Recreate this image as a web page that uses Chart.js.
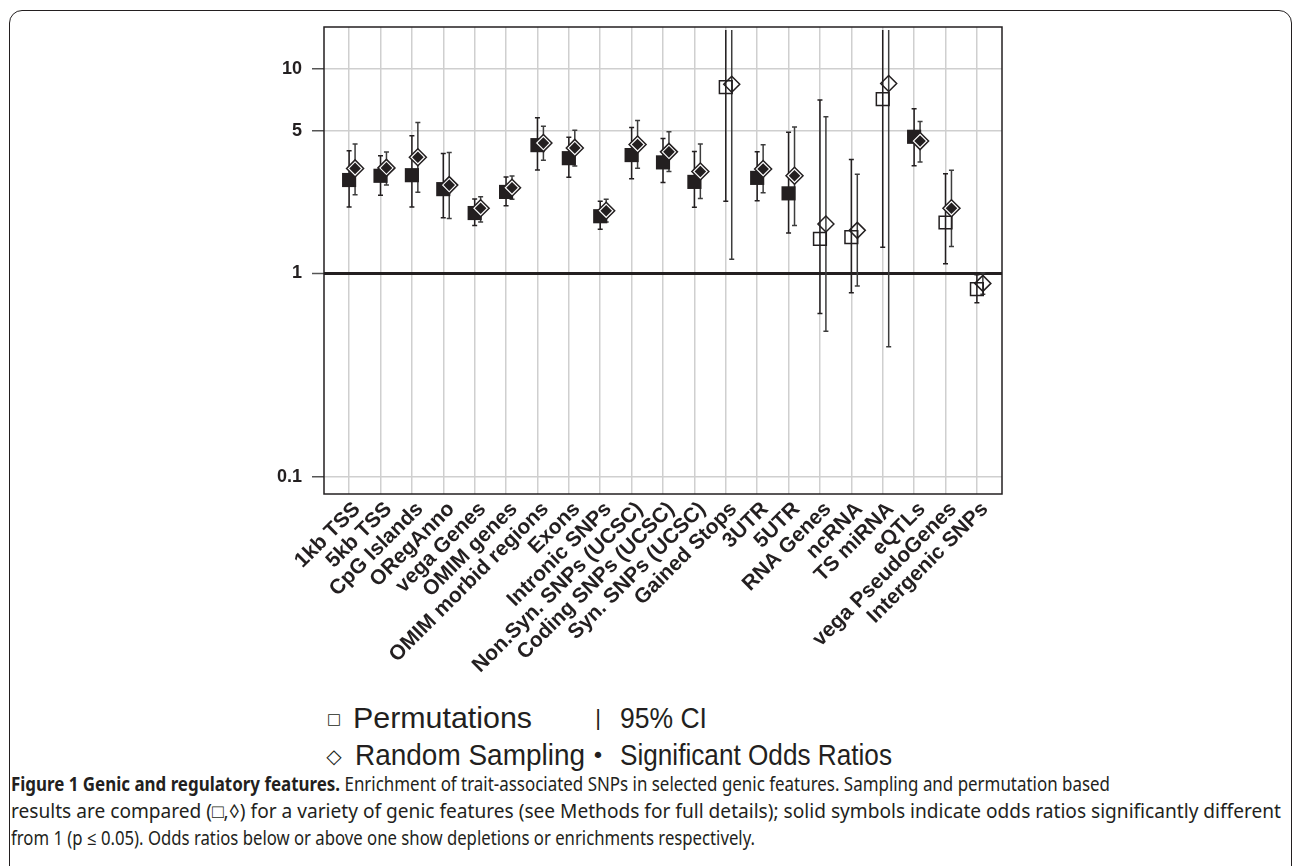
<!DOCTYPE html>
<html>
<head>
<meta charset="utf-8">
<script src="https://cdn.jsdelivr.net/npm/chart.js@4.4.1/dist/chart.umd.min.js"></script>
<style>
  body { margin:0; background:#fff; width:1292px; height:866px; overflow:hidden; position:relative;
         font-family:'Liberation Sans', Arial, sans-serif; color:#231f20; }
  #frame { position:absolute; left:9px; top:10px; width:1283px; height:900px; border:1.5px solid #231f20;
           border-radius:13px; box-sizing:border-box; }
  #wrap { position:absolute; left:0; top:0; width:1292px; height:700px; }
  .lg { position:absolute; font-size:29px; line-height:29px; white-space:nowrap; transform-origin:0 0; }
  .sym { position:absolute; width:30px; height:30px; display:flex; align-items:center; justify-content:center;
         font-family:'DejaVu Sans', sans-serif; line-height:1; }
  .cap { position:absolute; left:11px; font-family:'Noto Sans','Open Sans',sans-serif; font-size:19px;
         line-height:19px; white-space:nowrap; transform-origin:0 0; }
</style>
</head>
<body>
<div id="frame"></div>
<div id="wrap"><canvas id="myChart" width="1292" height="700"></canvas></div>

<div class="sym" style="left:319px;top:704px;font-size:15px;">□</div>
<div class="lg" data-w="179" style="left:353px;top:704px;">Permutations</div>
<div class="sym" style="left:319px;top:741px;font-size:20px;">◇</div>
<div class="lg" data-w="230" style="left:355px;top:741px;">Random Sampling</div>
<div class="sym" style="left:583px;top:703px;font-size:22px;font-family:'Liberation Sans';">|</div>
<div class="lg" data-w="87" style="left:620px;top:704px;">95% CI</div>
<div class="sym" style="left:583px;top:741px;font-size:22px;">•</div>
<div class="lg" data-w="272" style="left:620px;top:741px;">Significant Odds Ratios</div>

<div class="cap" data-w="1099" style="top:775px;"><b>Figure 1 Genic and regulatory features.</b> Enrichment of trait-associated SNPs in selected genic features. Sampling and permutation based</div>
<div class="cap" data-w="1270" style="top:802px;">results are compared (□,◊) for a variety of genic features (see Methods for full details); solid symbols indicate odds ratios significantly different</div>
<div class="cap" data-w="744" style="top:829px;">from 1 (p ≤ 0.05). Odds ratios below or above one show depletions or enrichments respectively.</div>

<script>
// feature names along the x axis
const categories = ['1kb TSS', '5kb TSS', 'CpG Islands', 'ORegAnno', 'vega Genes', 'OMIM genes',
  'OMIM morbid regions', 'Exons', 'Intronic SNPs', 'Non.Syn. SNPs (UCSC)', 'Coding SNPs (UCSC)',
  'Syn. SNPs (UCSC)', 'Gained Stops', '3UTR', '5UTR', 'RNA Genes', 'ncRNA', 'TS miRNA', 'eQTLs',
  'vega PseudoGenes', 'Intergenic SNPs'];

// permutation based odds ratios and 95% CI
const permOR = [2.86, 3.0, 3.02, 2.58, 1.97, 2.50, 4.24, 3.66, 1.90, 3.79, 3.49, 2.80, 8.16, 2.93, 2.46, 1.47, 1.50, 7.13, 4.66, 1.77, 0.835];
const permLo = [2.11, 2.41, 2.11, 1.87, 1.71, 2.14, 3.20, 2.95, 1.64, 2.90, 2.78, 2.10, 2.25, 2.26, 1.57, 0.634, 0.80, 1.34, 3.36, 1.11, 0.715];
const permHi = [3.98, 3.76, 4.71, 3.86, 2.31, 2.96, 5.77, 4.63, 2.25, 5.18, 4.57, 3.95, 20, 3.93, 4.91, 7.05, 3.61, 20, 6.39, 3.07, 0.98];
const permSig = [1, 1, 1, 1, 1, 1, 1, 1, 1, 1, 1, 1, 0, 1, 1, 0, 0, 0, 1, 0, 0];

// random sampling odds ratios and 95% CI
const sampOR = [3.26, 3.28, 3.70, 2.70, 2.08, 2.62, 4.34, 4.11, 2.02, 4.27, 3.93, 3.15, 8.44, 3.24, 3.0, 1.74, 1.62, 8.51, 4.44, 2.08, 0.89];
const sampLo = [2.42, 2.70, 2.49, 1.85, 1.78, 2.30, 3.58, 3.35, 1.78, 3.27, 3.15, 2.32, 1.17, 2.48, 1.71, 0.518, 0.863, 0.435, 3.51, 1.35, 0.787];
const sampHi = [4.30, 3.92, 5.48, 3.90, 2.37, 2.99, 5.25, 5.02, 2.30, 5.60, 4.93, 4.29, 20, 4.26, 5.2, 5.84, 3.05, 20, 5.54, 3.19, 1.0];
const sampSig = [1, 1, 1, 1, 1, 1, 1, 1, 1, 1, 1, 1, 0, 1, 1, 0, 0, 0, 1, 1, 0];

const yTicks = [0.1, 1, 5, 10];
const yTickLabels = ['0.1', '1', '5', '10'];

const DODGE = 0.19;   // sampling markers sit a little right of the permutation ones
const ink = '#231f20';

function pts(vals, sig, want, shift) {
  let out = [];
  for (let i = 0; i < vals.length; i++) {
    if (sig[i] === want) out.push({ x: i + 1 + shift, y: vals[i] });
  }
  return out;
}

function drawBars(ctx, x, y, shift, lo, hi, color) {
  ctx.strokeStyle = color;
  ctx.lineWidth = 1.5;
  for (let i = 0; i < lo.length; i++) {
    const px = x.getPixelForValue(i + 1 + shift);
    const top = y.getPixelForValue(hi[i]);
    const bot = y.getPixelForValue(lo[i]);
    ctx.beginPath();
    ctx.moveTo(px, top); ctx.lineTo(px, bot);
    ctx.moveTo(px - 2.5, top); ctx.lineTo(px + 2.5, top);
    ctx.moveTo(px - 2.5, bot); ctx.lineTo(px + 2.5, bot);
    ctx.stroke();
  }
}

const ciPlugin = {
  id: 'ci',
  beforeDatasetsDraw(chart) {
    const { ctx, chartArea, scales } = chart;
    ctx.save();
    ctx.beginPath();
    ctx.rect(chartArea.left, chartArea.top + 3, chartArea.right - chartArea.left, chartArea.bottom - chartArea.top);
    ctx.clip();
    drawBars(ctx, scales.x, scales.y, 0, permLo, permHi, ink);
    drawBars(ctx, scales.x, scales.y, DODGE, sampLo, sampHi, '#3d3d3d');
    ctx.restore();
  },
  afterDraw(chart) {
    const { ctx, chartArea } = chart;
    ctx.save();
    ctx.strokeStyle = ink;
    ctx.lineWidth = 1.5;
    ctx.strokeRect(chartArea.left, chartArea.top, chartArea.right - chartArea.left, chartArea.bottom - chartArea.top);
    ctx.restore();
  }
};

const ctx = document.getElementById('myChart');
const myChart = new Chart(ctx, {
  type: 'scatter',
  data: {
    datasets: [
      { label: 'perm sig', data: pts(permOR, permSig, 1, 0), order: 5,
        pointStyle: 'rect', pointRadius: 10, backgroundColor: ink, borderWidth: 0 },
      { label: 'perm', data: pts(permOR, permSig, 0, 0), order: 4,
        pointStyle: 'rect', pointRadius: 9, backgroundColor: 'rgba(0,0,0,0)', borderColor: ink, borderWidth: 1.5 },
      { label: 'samp sig ring', data: pts(sampOR, sampSig, 1, DODGE), order: 3,
        pointStyle: 'rectRot', pointRadius: 8.5, backgroundColor: '#fff', borderColor: ink, borderWidth: 1.5 },
      { label: 'samp sig', data: pts(sampOR, sampSig, 1, DODGE), order: 2,
        pointStyle: 'rectRot', pointRadius: 5.8, backgroundColor: ink, borderWidth: 0 },
      { label: 'samp', data: pts(sampOR, sampSig, 0, DODGE), order: 1,
        pointStyle: 'rectRot', pointRadius: 8, backgroundColor: 'rgba(0,0,0,0)', borderColor: ink, borderWidth: 1.5 }
    ]
  },
  options: {
    responsive: false,
    animation: false,
    layout: { padding: { top: 27, right: 290, left: 0, bottom: 0 } },
    plugins: { legend: { display: false }, tooltip: { enabled: false } },
    scales: {
      x: {
        type: 'linear',
        min: 0.2,
        max: 21.8,
        afterBuildTicks: (scale) => { scale.ticks = categories.map((c, i) => ({ value: i + 1 })); },
        afterFit: (scale) => { scale.height = 206; },
        grid: { color: '#cfcfcf', lineWidth: 1.5, drawTicks: false },
        border: { display: false },
        ticks: {
          autoSkip: false,
          minRotation: 45,
          maxRotation: 45,
          padding: 3,
          labelOffset: 8,
          color: ink,
          font: { family: 'Liberation Sans', size: 21, weight: 'bold' },
          callback: (v, i) => categories[i]
        }
      },
      y: {
        type: 'logarithmic',
        min: 0.0825,
        max: 16.1,
        afterBuildTicks: (scale) => { scale.ticks = yTicks.map(v => ({ value: v })); },
        afterFit: (scale) => { scale.width = 324; },
        grid: {
          color: (c) => (c.tick && c.tick.value === 1 ? ink : '#cfcfcf'),
          lineWidth: (c) => (c.tick && c.tick.value === 1 ? 3 : 1.5),
          tickColor: '#555',
          tickWidth: 1.5,
          tickLength: 12
        },
        border: { display: false },
        ticks: {
          padding: 10,
          color: ink,
          font: { family: 'Liberation Sans', size: 18, weight: 'bold' },
          callback: (v, i) => yTickLabels[i]
        }
      }
    }
  },
  plugins: [ciPlugin]
});

// squeeze legend and caption lines to the widths seen in the figure
document.querySelectorAll('[data-w]').forEach(el => {
  const w = el.getBoundingClientRect().width;
  el.style.transform = 'scaleX(' + (Number(el.dataset.w) / w) + ')';
});
</script>
</body>
</html>
